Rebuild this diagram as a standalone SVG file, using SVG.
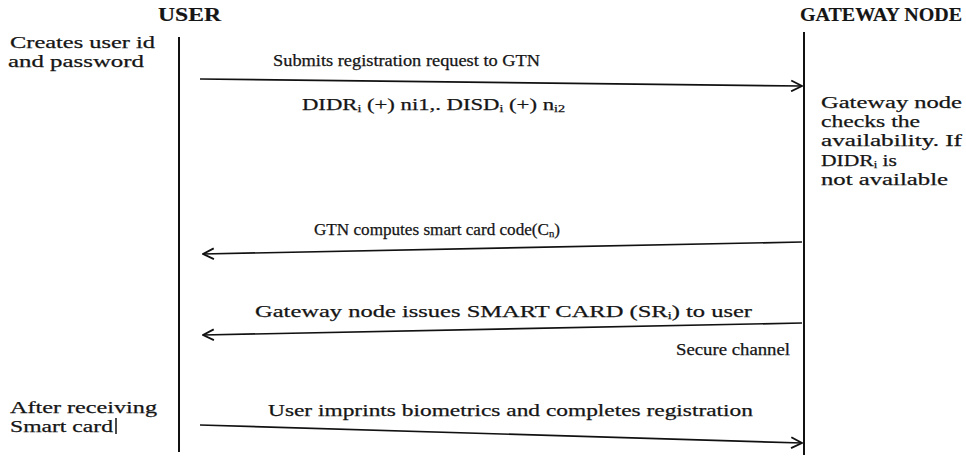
<svg xmlns="http://www.w3.org/2000/svg" width="966" height="459" viewBox="0 0 966 459">
<style>
text{font-family:"Liberation Serif","Times New Roman",serif;fill:#151515;stroke:#151515;stroke-width:0.25;}
.title{font-size:18px;font-weight:bold;stroke-width:0.15;}
.lbl{font-size:16px;}
.big{font-size:17px;}
.note{font-size:17px;}
.life{stroke:#111;stroke-width:2;fill:none;}
.msg{stroke:#111;stroke-width:1.7;fill:none;}
.sub{font-size:10px;}
</style>
<defs>
<marker id="ah" viewBox="0 0 12 12" refX="11" refY="6" markerWidth="13" markerHeight="13" markerUnits="userSpaceOnUse" orient="auto">
<path d="M1,1 L11,6 L1,11" fill="none" stroke="#111" stroke-width="1.7"/>
</marker>
</defs>
<rect width="966" height="459" fill="#fff"/>
<g id="user">
<text class="title" x="158" y="21" textLength="63" lengthAdjust="spacingAndGlyphs">USER</text>
<line class="life" x1="179" y1="37" x2="179" y2="452"/>
<text class="note" x="10" y="48" textLength="145" lengthAdjust="spacingAndGlyphs">Creates user id</text>
<text class="note" x="8" y="67" textLength="136" lengthAdjust="spacingAndGlyphs">and password</text>
<text class="note" x="10" y="413" textLength="147" lengthAdjust="spacingAndGlyphs">After receiving</text>
<text class="note" x="10" y="432" textLength="103" lengthAdjust="spacingAndGlyphs">Smart card</text>
<line x1="116" y1="418" x2="116" y2="434" stroke="#111" stroke-width="1.5"/>
</g>
<g id="gateway">
<text class="title" x="800" y="21" textLength="162" lengthAdjust="spacingAndGlyphs">GATEWAY NODE</text>
<line class="life" x1="804" y1="32" x2="804" y2="455"/>
<text class="note" x="821" y="108" textLength="141" lengthAdjust="spacingAndGlyphs">Gateway node</text>
<text class="note" x="821" y="127" textLength="99" lengthAdjust="spacingAndGlyphs">checks the</text>
<text class="note" x="821" y="146" textLength="141" lengthAdjust="spacingAndGlyphs">availability. If</text>
<text class="note" x="821" y="166" textLength="76" lengthAdjust="spacingAndGlyphs">DIDR<tspan class="sub" dy="2">i</tspan><tspan dy="-2"> is</tspan></text>
<text class="note" x="821" y="185" textLength="127" lengthAdjust="spacingAndGlyphs">not available</text>
</g>
<g id="connectors">
<line class="msg" x1="200" y1="79" x2="802" y2="86" marker-end="url(#ah)"/>
<text class="lbl" x="273" y="66" textLength="267" lengthAdjust="spacingAndGlyphs">Submits registration request to GTN</text>
<text class="lbl" x="302" y="110" textLength="263" lengthAdjust="spacingAndGlyphs">DIDR<tspan class="sub" dy="2">i</tspan><tspan dy="-2"> (+) ni1,. DISD</tspan><tspan class="sub" dy="2">i</tspan><tspan dy="-2"> (+) n</tspan><tspan class="sub" dy="2">i2</tspan></text>
<line class="msg" x1="802" y1="242" x2="203" y2="254" marker-end="url(#ah)"/>
<text class="lbl" x="314" y="235" textLength="246" lengthAdjust="spacingAndGlyphs">GTN computes smart card code(C<tspan class="sub" dy="2">n</tspan><tspan dy="-2">)</tspan></text>
<line class="msg" x1="802" y1="323" x2="203" y2="335" marker-end="url(#ah)"/>
<text class="big" x="255" y="317" textLength="497" lengthAdjust="spacingAndGlyphs">Gateway node issues SMART CARD (SR<tspan class="sub" dy="2">i</tspan><tspan dy="-2">) to user</tspan></text>
<text class="lbl" x="676" y="355" textLength="114" lengthAdjust="spacingAndGlyphs">Secure channel</text>
<line class="msg" x1="200" y1="425" x2="802" y2="443" marker-end="url(#ah)"/>
<text class="big" x="268" y="416" textLength="485" lengthAdjust="spacingAndGlyphs">User imprints biometrics and completes registration</text>
</g>
</svg>
